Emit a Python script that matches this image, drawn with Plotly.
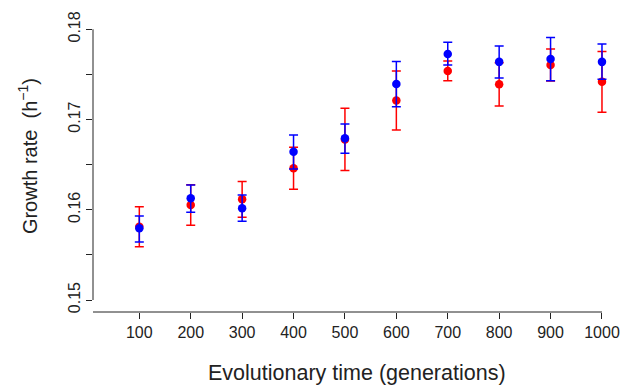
import plotly.graph_objects as go

generations = [100, 200, 300, 400, 500, 600, 700, 800, 900, 1000]

red_mean = [0.15813, 0.16053, 0.16116, 0.16460, 0.16780, 0.17210, 0.17539, 0.17391, 0.17605, 0.17420]
red_hi   = [0.16034, 0.16278, 0.16312, 0.16693, 0.17125, 0.17539, 0.17650, 0.17630, 0.17783, 0.17753]
red_lo   = [0.15591, 0.15828, 0.15917, 0.16227, 0.16434, 0.16885, 0.17431, 0.17151, 0.17428, 0.17081]

blue_mean = [0.15795, 0.16127, 0.16017, 0.16644, 0.16792, 0.17395, 0.17727, 0.17639, 0.17672, 0.17639]
blue_hi   = [0.15931, 0.16275, 0.16164, 0.16829, 0.16951, 0.17642, 0.17857, 0.17816, 0.17908, 0.17838]
blue_lo   = [0.15643, 0.15972, 0.15872, 0.16452, 0.16626, 0.17143, 0.17605, 0.17461, 0.17431, 0.17447]

y_tickvals = [0.15, 0.16, 0.17, 0.18]
y_ticktext = ["0.15", "0.16", "0.17", "0.18"]
y_minorvals = [0.155, 0.165, 0.175]

FONT = "Liberation Sans, Arial, sans-serif"
TXT = "#222222"


def series(mean, hi, lo, color):
    return go.Scatter(
        x=generations, y=mean, mode="markers",
        marker=dict(color=color, size=8.5),
        error_y=dict(type="data", symmetric=False,
                     array=[h - m for h, m in zip(hi, mean)],
                     arrayminus=[m - l for m, l in zip(mean, lo)],
                     color=color, thickness=1.5, width=4.5),
        showlegend=False, cliponaxis=False,
    )


fig = go.Figure()
fig.add_trace(series(red_mean, red_hi, red_lo, "#ff0000"))
fig.add_trace(series(blue_mean, blue_hi, blue_lo, "#0000ff"))

fig.update_layout(
    width=622, height=385,
    margin=dict(l=93, r=10, t=20, b=73),
    paper_bgcolor="white", plot_bgcolor="white",
    font=dict(family=FONT, size=16, color=TXT),
    xaxis=dict(range=[9.9, 1019.5], tickvals=generations,
               ticktext=[str(g) for g in generations],
               ticks="outside", ticklen=6, tickwidth=1, tickcolor=TXT,
               showgrid=False, zeroline=False, showline=False,
               automargin=False,
               tickfont=dict(size=16, color=TXT)),
    yaxis=dict(range=[0.14867, 0.18103], tickvals=y_tickvals, ticktext=y_ticktext,
               ticks="outside", ticklen=6, tickwidth=1, tickcolor=TXT,
               tickangle=-90, automargin=False,
               minor=dict(tickmode="array", tickvals=y_minorvals, ticks="outside",
                          ticklen=6, tickwidth=1, tickcolor=TXT, showgrid=False),
               showgrid=False, zeroline=False, showline=False,
               tickfont=dict(size=16, color=TXT)),
    shapes=[
        dict(type="line", xref="x", yref="paper", x0=9.9, x1=1000, y0=0, y1=0,
             line=dict(color=TXT, width=1)),
        dict(type="line", xref="paper", yref="y", x0=0, x1=0, y0=0.15, y1=0.18,
             line=dict(color=TXT, width=1)),
    ],
    annotations=[
        dict(text="Evolutionary time (generations)", xref="x", yref="paper",
             x=523, y=-0.21, showarrow=False, yanchor="middle",
             font=dict(size=21.5, color=TXT)),
        dict(text="Growth rate  (h<sup>−1</sup>)", xref="paper", yref="y",
             x=-0.125, y=0.16596, showarrow=False, textangle=-90,
             xanchor="center", yanchor="middle",
             font=dict(size=20, color=TXT)),
    ],
)

fig.write_html("out.html", config={"displayModeBar": False},
               post_script="document.body.style.margin='0';document.body.style.overflow='hidden';")
